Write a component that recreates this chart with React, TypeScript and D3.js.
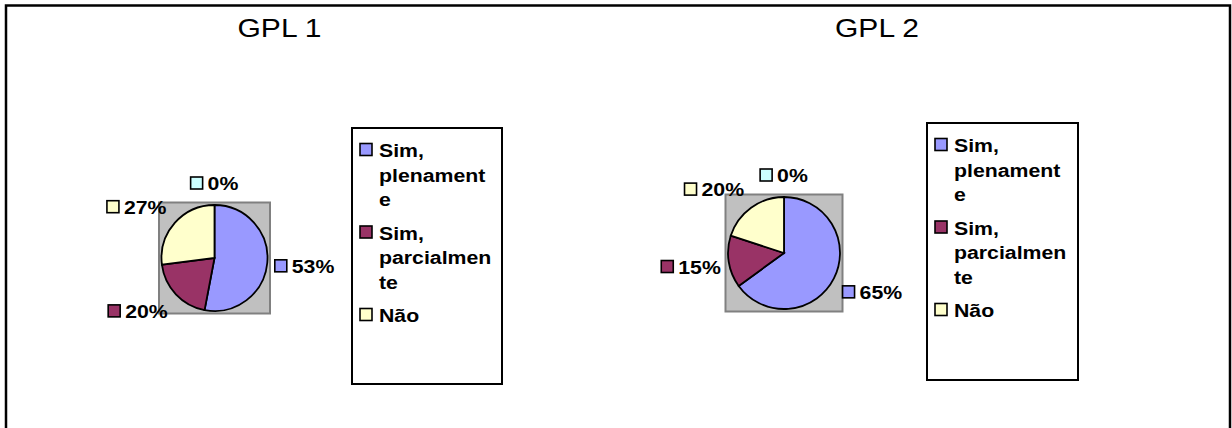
import React from "react";
import * as d3 from "d3";

// ---- data ----
const categories = ["Sim, plenamente", "Sim, parcialmente", "Não", ""];
const legendLines = [
  ["Sim,", "plenament", "e"],
  ["Sim,", "parcialmen", "te"],
  ["Não"],
];
const sliceColors = ["#9999FF", "#993366", "#FFFFCC", "#CCFFFF"];
const titles = ["GPL 1", "GPL 2"];
const gpl1Values = [53, 20, 27, 0];
const gpl2Values = [65, 15, 20, 0];
const seriesValues = [gpl1Values, gpl2Values];

// ---- layout ----
const W = 1232;
const H = 428;
const panels = [
  { cx: 214.5, cy: 258, r: 53, titleX: 279.5, legend: { x: 352, y: 128, w: 150, h: 256 } },
  { cx: 784, cy: 253, r: 56, titleX: 877, legend: { x: 927, y: 123, w: 151, h: 257 } },
];
const FONT = "Arial, 'Liberation Sans', sans-serif";
const LABEL_SIZE = 19;
const STRETCH = 1.12;

let ctx: CanvasRenderingContext2D | null = null;
function measure(text: string, font: string) {
  if (!ctx) {
    const c = document.createElement("canvas");
    ctx = c.getContext("2d");
  }
  if (!ctx) return text.length * 10;
  ctx.font = font;
  return ctx.measureText(text).width;
}

function SText({ x, y, children, size, weight, sx, anchor }: any) {
  return (
    <text
      transform={`translate(${x},${y}) scale(${sx},1)`}
      fontFamily={FONT}
      fontSize={size}
      fontWeight={weight}
      textAnchor={anchor || "start"}
      fill="#000"
    >
      {children}
    </text>
  );
}

const clamp = (v: number) => Math.max(-1, Math.min(1, v));

function Panel({ values, title, p }: any) {
  const pie = d3
    .pie<number>()
    .sort(null)
    .value((d) => d)
    .startAngle(0)
    .endAngle(2 * Math.PI);
  const arcs = pie(values);
  const arc = d3.arc<d3.PieArcDatum<number>>().innerRadius(0).outerRadius(p.r);
  const total = d3.sum(values);
  const fmt = d3.format(".0%");
  const pad = 2.5;
  const labelH = 18;

  return (
    <g>
      <SText x={p.titleX} y={37} size={25} weight="normal" sx={1.2} anchor="middle">
        {title}
      </SText>
      <rect
        x={p.cx - p.r - pad}
        y={p.cy - p.r - pad}
        width={2 * (p.r + pad)}
        height={2 * (p.r + pad)}
        fill="#C0C0C0"
        stroke="#808080"
        strokeWidth={2}
      />
      <g transform={`translate(${p.cx},${p.cy})`}>
        {arcs.map((a, i) =>
          a.endAngle - a.startAngle > 0 ? (
            <path key={i} d={arc(a) || ""} fill={sliceColors[i]} stroke="#000" strokeWidth={1.8} />
          ) : null
        )}
      </g>
      {arcs.map((a, i) => {
        const th = (a.startAngle + a.endAngle) / 2;
        const s = Math.sin(th);
        const c = -Math.cos(th);
        const txt = fmt(values[i] / total);
        const tw = measure(txt, `bold ${LABEL_SIZE}px ${FONT}`) * STRETCH;
        const w = 12 + 5 + tw;
        const d = 7 + 6 * Math.abs(c);
        const ax = p.cx + s * (p.r + d);
        const ay = p.cy + c * (p.r + d);
        const bx = ax + (clamp(s * 2.5) * w) / 2;
        const by = ay + (clamp(c * 2.5) * labelH) / 2;
        const left = bx - w / 2;
        return (
          <g key={"l" + i}>
            <rect x={left} y={by - 6} width={12} height={12} fill={sliceColors[i]} stroke="#000" strokeWidth={1.6} />
            <SText x={left + 17} y={by + 7} size={LABEL_SIZE} weight="bold" sx={STRETCH}>
              {txt}
            </SText>
          </g>
        );
      })}
      <rect
        x={p.legend.x}
        y={p.legend.y}
        width={p.legend.w}
        height={p.legend.h}
        fill="#fff"
        stroke="#000"
        strokeWidth={2}
      />
      {(() => {
        const out: any[] = [];
        let yy = p.legend.y + 22;
        legendLines.forEach((lines, i) => {
          out.push(
            <rect
              key={"ls" + i}
              x={p.legend.x + 8}
              y={yy - 6.5}
              width={12}
              height={12}
              fill={sliceColors[i]}
              stroke="#000"
              strokeWidth={1.6}
            />
          );
          lines.forEach((ln, j) => {
            out.push(
              <SText key={`lt${i}-${j}`} x={p.legend.x + 27} y={yy + j * 24.5 + 7} size={LABEL_SIZE} weight="bold" sx={STRETCH}>
                {ln}
              </SText>
            );
          });
          yy += lines.length * 24.5 + 9;
        });
        return out;
      })()}
    </g>
  );
}

export default function App() {
  return (
    <svg
      width={W}
      height={H}
      style={{ position: "absolute", left: 0, top: 0, background: "#fff" }}
    >
      <rect x={0} y={0} width={W} height={H} fill="#fff" />
      <rect x={6} y={5.5} width={1224} height={500} fill="none" stroke="#000" strokeWidth={2.5} />
      {seriesValues.map((vals, k) => (
        <Panel key={k} values={vals} title={titles[k]} p={panels[k]} />
      ))}
    </svg>
  );
}
